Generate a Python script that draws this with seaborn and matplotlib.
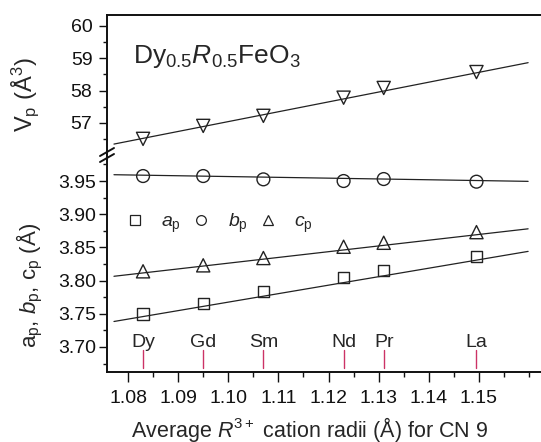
import numpy as np
import pandas as pd
import matplotlib
matplotlib.use('Agg')
import matplotlib.pyplot as plt
import seaborn as sns
from matplotlib.lines import Line2D
from matplotlib.ticker import MultipleLocator, FormatStrFormatter

# ---------------- data ----------------
elements = ['Dy', 'Gd', 'Sm', 'Nd', 'Pr', 'La']
radius = [1.083, 1.095, 1.107, 1.123, 1.131, 1.1495]
vol = [56.51, 56.91, 57.22, 57.78, 58.08, 58.57]
a_p = [3.7497, 3.766, 3.783, 3.805, 3.8155, 3.8357]
b_p = [3.9575, 3.9575, 3.9525, 3.950, 3.953, 3.949]
c_p = [3.814, 3.823, 3.834, 3.851, 3.857, 3.873]
fit_x = [1.0772, 1.1598]
vol_fit = [56.35, 58.86]
a_fit = [3.7384, 3.844]
b_fit = [3.9595, 3.9495]
c_fit = [3.8065, 3.878]
x_ticks = [1.08, 1.09, 1.10, 1.11, 1.12, 1.13, 1.14, 1.15]

df = pd.DataFrame({'r': radius, 'V': vol, 'a': a_p, 'b': b_p, 'c': c_p})
fit = pd.DataFrame({'x': fit_x, 'V': vol_fit, 'a': a_fit, 'b': b_fit, 'c': c_fit})

# ---------------- style ----------------
sns.set_style('ticks')
plt.rcParams['font.family'] = ['Liberation Sans', 'DejaVu Sans']
plt.rcParams['mathtext.fontset'] = 'custom'
plt.rcParams['mathtext.rm'] = 'Liberation Sans'
plt.rcParams['mathtext.it'] = 'Liberation Sans:italic'
plt.rcParams['mathtext.bf'] = 'Liberation Sans:bold'
plt.rcParams['axes.unicode_minus'] = False

W, H = 541, 442
fig = plt.figure(figsize=(W / 100, H / 100), dpi=100)
fig.patch.set_facecolor('white')

L, R = 107, 541
top_y0, top_y1 = 15, 155
bot_y0, bot_y1 = 155, 372

ax_top = fig.add_axes([L / W, 1 - top_y1 / H, (R - L) / W, (top_y1 - top_y0) / H])
ax_bot = fig.add_axes([L / W, 1 - bot_y1 / H, (R - L) / W, (bot_y1 - bot_y0) / H])

xlim = (1.07581, 1.16237)
line_kw = dict(color='#222222', linewidth=0.9)
mk_kw = dict(color='none', edgecolor='#222222', linewidth=1.0, zorder=3)

TICK_FS = 14

# top panel
sns.lineplot(data=fit, x='x', y='V', ax=ax_top, **line_kw)
sns.scatterplot(data=df, x='r', y='V', ax=ax_top, marker='v', s=90, **mk_kw)
ax_top.set_xlim(*xlim)
ax_top.set_ylim(56.013, 60.33)

# bottom panel
for col in ['a', 'b', 'c']:
    sns.lineplot(data=fit, x='x', y=col, ax=ax_bot, **line_kw)
sns.scatterplot(data=df, x='r', y='a', ax=ax_bot, marker='s', s=65, **mk_kw)
sns.scatterplot(data=df, x='r', y='b', ax=ax_bot, marker='o', s=85, **mk_kw)
sns.scatterplot(data=df, x='r', y='c', ax=ax_bot, marker='^', s=90, **mk_kw)
ax_bot.set_xlim(*xlim)
ax_bot.set_ylim(3.6623, 3.9892)

# element markers
for el, r in zip(elements, radius):
    ax_bot.plot([r, r], [3.6955, 3.6684], color='#cc3366', linewidth=1.0)
    ax_bot.text(r, 3.6935, el, ha='center', va='bottom', fontsize=TICK_FS)

# axes styling
for ax in (ax_top, ax_bot):
    ax.set_xlabel('')
    ax.set_ylabel('')
    ax.spines['right'].set_visible(False)
    for s in ax.spines.values():
        s.set_linewidth(1.4)
        s.set_color('#111111')
    ax.tick_params(axis='both', which='major', length=6, width=1.0, labelsize=TICK_FS,
                   color='#111111', labelcolor='#111111')
    ax.tick_params(axis='both', which='minor', length=3.2, width=1.0, color='#111111')
    if ax.get_legend():
        ax.get_legend().remove()

ax_top.spines['bottom'].set_visible(False)
ax_top.tick_params(axis='x', which='both', bottom=False, labelbottom=False)
ax_top.yaxis.set_major_locator(MultipleLocator(1))
ax_top.yaxis.set_minor_locator(MultipleLocator(0.5))
ax_top.yaxis.set_major_formatter(FormatStrFormatter('%d'))
ax_top.tick_params(axis='y', which='major', pad=4.5)

ax_bot.spines['top'].set_visible(False)
ax_bot.set_xticks(x_ticks)
ax_bot.xaxis.set_major_formatter(FormatStrFormatter('%.2f'))
ax_bot.xaxis.set_minor_locator(MultipleLocator(0.005))
ax_bot.yaxis.set_major_locator(MultipleLocator(0.05))
ax_bot.yaxis.set_minor_locator(MultipleLocator(0.025))
ax_bot.yaxis.set_major_formatter(FormatStrFormatter('%.2f'))
ax_bot.tick_params(axis='y', which='major', pad=1.5)
ax_bot.tick_params(axis='x', which='major', length=7, pad=6)
ax_bot.tick_params(axis='x', which='minor', length=3.5)

# break marks
for dy in (-3, 3):
    yc = 155 + dy
    x0, x1 = 100, 114
    fig.add_artist(Line2D([x0 / W, x1 / W], [1 - (yc + 4) / H, 1 - (yc - 4) / H],
                          color='#111111', linewidth=1.4))

# title
ax_top.text(0.06, 0.657,
            r'Dy$_{0.5}$$\mathit{R}$$_{0.5}$FeO$_{3}$',
            transform=ax_top.transAxes, fontsize=19, ha='left', va='baseline')

# legend
handles = [
    Line2D([], [], marker='s', linestyle='none', markersize=6.5, markerfacecolor='none',
           markeredgecolor='#222222', markeredgewidth=0.9),
    Line2D([], [], marker='o', linestyle='none', markersize=7, markerfacecolor='none',
           markeredgecolor='#222222', markeredgewidth=0.9),
    Line2D([], [], marker='^', linestyle='none', markersize=7.5, markerfacecolor='none',
           markeredgecolor='#222222', markeredgewidth=0.9),
]
labels = [r'$\mathit{a}_\mathregular{p}$', r'$\mathit{b}_\mathregular{p}$',
          r'$\mathit{c}_\mathregular{p}$']
ax_bot.legend(handles, labels, ncol=3, frameon=False, loc='center left',
              bbox_to_anchor=(0.042, 0.685), borderaxespad=0, borderpad=0,
              handlelength=1.0, handletextpad=0.85, columnspacing=0.55, fontsize=14)

# axis labels
fig.text(25 / W, 1 - 95 / H, r'V$_\mathregular{p}$ (Å$^{3}$)', rotation=90,
         ha='center', va='center', fontsize=17)
fig.text(30 / W, 1 - 285 / H,
         r'a$_\mathregular{p}$, $\mathit{b}_\mathregular{p}$, c$_\mathregular{p}$ (Å)',
         rotation=90, ha='center', va='center', fontsize=16)
fig.text(310 / W, 1 - 429 / H, r'Average $\mathit{R}^{3+}$ cation radii (Å) for CN 9',
         ha='center', va='center', fontsize=15.5)

fig.savefig('out.png', dpi=100, facecolor='white')
